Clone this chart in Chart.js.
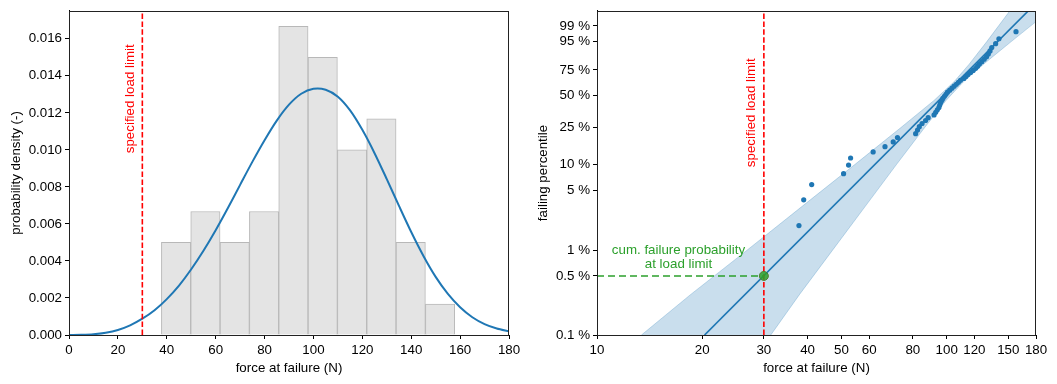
<!DOCTYPE html>
<html>
<head>
<meta charset="utf-8">
<script src="https://cdn.jsdelivr.net/npm/chart.js@4.4.1/dist/chart.umd.min.js"></script>
<style>
  html, body { margin: 0; padding: 0; background: #fff; }
  #wrap { position: relative; width: 1057px; height: 384px; }
  .panel { position: absolute; top: 0; }
  #left { left: 0; }
  #right { left: 528px; }
</style>
</head>
<body>
<div id="wrap">
  <div class="panel" id="left"><canvas id="histChart" width="528" height="384"></canvas></div>
  <div class="panel" id="right"><canvas id="probChart" width="529" height="384"></canvas></div>
</div>
<script>
// histogram of force at failure (N), 10 bins of 12 N
const binCenters = [43.8, 55.8, 67.8, 79.8, 91.8, 103.8, 115.8, 127.8, 139.8, 151.8];
const binDensity = [0.005, 0.00667, 0.005, 0.00667, 0.01667, 0.015, 0.01, 0.01167, 0.005, 0.00167];

// fitted density curve
const pdfX = [0, 5, 10, 15, 20, 25, 30, 35, 40, 45, 50, 55, 60, 65, 70, 75, 80, 85, 90,
              95, 100, 105, 110, 115, 120, 125, 130, 135, 140, 145, 150, 155, 160, 165, 170, 175, 180];
const pdfY = [0, 0.00001, 0.00004, 0.00012, 0.00027, 0.00052, 0.00088, 0.00134, 0.00194, 0.00267,
              0.00355, 0.00455, 0.00566, 0.00686, 0.00811, 0.00935, 0.01052, 0.01158, 0.01244,
              0.01303, 0.0133, 0.01325, 0.01287, 0.01213, 0.01108, 0.00982, 0.00842, 0.00697,
              0.00556, 0.00427, 0.00314, 0.00222, 0.0015, 0.00096, 0.00059, 0.00035, 0.0002];

const loadLimit = 30;      // N
const limitPct = 0.5;      // cum. failure probability at load limit (%)

// sorted failure forces (N) and their failing percentile (%)
const forces = [37.8, 39.0, 41.1, 50.7, 52.4, 53.1, 61.6, 66.6, 70.3, 72.3,
                81.5, 82.5, 83.5, 85.0,
                87.0, 88.5, 92.0, 93.0, 94.0, 95.0, 95.5, 96.0, 96.8, 97.5,
                98.5, 99.5, 100.5, 102.0, 103.5, 105.0, 106.5, 108.0, 109.5,
                112.0, 113.5, 115.0, 117.0, 119.0, 121.0,
                122.5, 124.0, 126.0, 128.0, 130.0, 131.5, 133.0,
                134.5, 138.0, 141.0,
                157.8];
const failPct = [1.96, 3.92, 5.88, 7.84, 9.80, 11.76, 13.73, 15.69, 17.65, 19.61,
                 21.57, 23.53, 25.49, 27.45, 29.41, 31.37, 33.33, 35.29, 37.25, 39.22,
                 41.18, 43.14, 45.10, 47.06, 49.02, 50.98, 52.94, 54.90, 56.86, 58.82,
                 60.78, 62.75, 64.71, 66.67, 68.63, 70.59, 72.55, 74.51, 76.47, 78.43,
                 80.39, 82.35, 84.31, 86.27, 88.24, 90.20, 92.16, 94.12, 96.08, 98.04];

// fitted line and its confidence band
const fitX = [20.3, 171];
const fitPct = [0.1, 99.9];
const bandPct = [0.1, 0.3, 1, 3, 10, 25, 45, 63.2, 80, 95, 99.9];
const bandLow = [13.4, 18.5, 26.8, 37.5, 54.7, 74.0, 91.8, 104.9, 115.8, 130.2, 151.4];
const bandHigh = [31.4, 37.9, 47.1, 57.5, 71.9, 86.5, 99.4, 111.6, 127.2, 152.9, 196.3];

// axis ticks
const forceTicks = [10, 20, 30, 40, 50, 60, 80, 100, 120, 150, 180];
const pctTicks = [0.1, 0.5, 1, 5, 10, 25, 50, 75, 95, 99];
const pctLabels = ['0.1 %', '0.5 %', '1 %', '5 %', '10 %', '25 %', '50 %', '75 %', '95 %', '99 %'];

// weibull probability paper
const wb = p => Math.log(-Math.log(1 - p / 100));

Chart.defaults.font.family = '"Liberation Sans", Arial, sans-serif';
Chart.defaults.font.size = 13.33;
Chart.defaults.color = '#000';

const blue = '#1f77b4';
const green = '#2ca02c';

function axisStyle() {
    return {
        grid: { display: true, offset: false, drawOnChartArea: false, drawTicks: true, tickLength: 4, tickColor: '#000' },
        border: { display: true, color: '#000', width: 1 }
    };
}

// box around the plot area plus text annotations
const framePlugin = {
    id: 'frame',
    afterDatasetsDraw(chart) {
        const { ctx, chartArea: a } = chart;
        ctx.save();
        ctx.strokeStyle = '#222';
        ctx.lineWidth = 1;
        ctx.strokeRect(Math.round(a.left) + 0.5, Math.round(a.top) + 0.5,
                       Math.round(a.right - a.left) - 1, Math.round(a.bottom - a.top));
        const notes = chart.options.plugins.frame.notes || [];
        notes.forEach(n => {
            const x = chart.scales.x.getPixelForValue(n.x) + (n.dx || 0);
            const y = chart.scales.y.getPixelForValue(n.y) + (n.dy || 0);
            ctx.save();
            ctx.translate(x, y);
            ctx.rotate(n.rot || 0);
            ctx.fillStyle = n.color;
            ctx.font = '13.33px "Liberation Sans", Arial, sans-serif';
            ctx.textAlign = 'center';
            ctx.textBaseline = 'middle';
            ctx.fillText(n.text, 0, 0);
            ctx.restore();
        });
        ctx.restore();
    }
};

// left: histogram + density
const yTop = 0.0175;
new Chart(document.getElementById('histChart'), {
    type: 'bar',
    data: {
        datasets: [
            {
                type: 'line',
                data: [{ x: loadLimit, y: 0 }, { x: loadLimit, y: yTop }],
                borderColor: 'red', borderWidth: 1.6, borderDash: [5.5, 2.4],
                pointRadius: 0, order: 0
            },
            {
                type: 'line',
                data: pdfX.map((x, i) => ({ x: x, y: pdfY[i] })),
                borderColor: blue, borderWidth: 2, pointRadius: 0, tension: 0.3, order: 1
            },
            {
                data: binCenters.map((x, i) => ({ x: x, y: binDensity[i] })),
                backgroundColor: '#e4e4e4', borderColor: '#b8b8b8', borderWidth: 1,
                barPercentage: 1, categoryPercentage: 1, order: 2
            }
        ]
    },
    options: {
        responsive: false,
        animation: false,
        layout: { padding: { left: 0, right: 19, top: 3, bottom: 0 } },
        plugins: {
            legend: { display: false },
            tooltip: { enabled: false },
            frame: {
                notes: [{ x: loadLimit, y: 0.01276, dx: -12, rot: -Math.PI / 2, color: 'red', text: 'specified load limit' }]
            }
        },
        scales: {
            x: {
                type: 'linear', min: 0, max: 180, offset: false,
                ticks: { stepSize: 20, padding: 3, maxRotation: 0, autoSkip: false },
                title: { display: true, text: 'force at failure (N)', padding: { top: 2, bottom: 8 } },
                afterFit: s => { s.height = 49; },
                ...axisStyle()
            },
            y: {
                min: 0, max: yTop,
                ticks: { stepSize: 0.002, includeBounds: false, padding: 3, callback: v => v.toFixed(3) },
                title: { display: true, text: 'probability density (-)', padding: { top: 8, bottom: 0 } },
                afterFit: s => { s.width = 69; },
                ...axisStyle()
            }
        }
    },
    plugins: [framePlugin]
});

// right: weibull probability plot
const bandPts = bandPct.map((p, i) => ({ x: bandLow[i], y: wb(p) }))
    .concat(bandPct.map((p, i) => ({ x: bandHigh[i], y: wb(p) })).reverse());

new Chart(document.getElementById('probChart'), {
    type: 'scatter',
    data: {
        datasets: [
            {
                data: [{ x: loadLimit, y: wb(limitPct) }],
                pointRadius: 4.5, backgroundColor: 'rgba(44,160,44,0.85)', borderColor: '#4f7d2c', borderWidth: 1,
                order: 0
            },
            {
                data: [{ x: 10, y: wb(limitPct) }, { x: loadLimit, y: wb(limitPct) }],
                showLine: true, borderColor: green, borderWidth: 1.6, borderDash: [7, 4], pointRadius: 0,
                order: 1
            },
            {
                data: [{ x: loadLimit, y: wb(0.1) }, { x: loadLimit, y: wb(99.9) }],
                showLine: true, borderColor: 'red', borderWidth: 1.6, borderDash: [5.5, 2.4], pointRadius: 0,
                order: 2
            },
            {
                data: forces.map((x, i) => ({ x: x, y: wb(failPct[i]) })),
                pointRadius: 2.6, backgroundColor: blue, borderWidth: 0, order: 3
            },
            {
                data: fitX.map((x, i) => ({ x: x, y: wb(fitPct[i]) })),
                showLine: true, borderColor: blue, borderWidth: 1.7, pointRadius: 0, clip: 0, order: 4
            },
            {
                data: bandPts,
                showLine: true, fill: 'shape', backgroundColor: 'rgba(31,119,180,0.24)',
                borderColor: 'rgba(31,119,180,0.25)', borderWidth: 1, pointRadius: 0, clip: 0, order: 5
            }
        ]
    },
    options: {
        responsive: false,
        animation: false,
        layout: { padding: { left: 0, right: 21, top: 3, bottom: 0 } },
        plugins: {
            legend: { display: false },
            tooltip: { enabled: false },
            frame: {
                notes: [
                    { x: loadLimit, y: wb(35), dx: -13, rot: -Math.PI / 2, color: 'red', text: 'specified load limit' },
                    { x: 17.1, y: wb(limitPct), dy: -26, color: green, text: 'cum. failure probability' },
                    { x: 17.1, y: wb(limitPct), dy: -12, color: green, text: 'at load limit' }
                ]
            }
        },
        scales: {
            x: {
                type: 'logarithmic', min: 10, max: 180,
                afterBuildTicks: s => { s.ticks = forceTicks.map(v => ({ value: v })); },
                ticks: { padding: 3, maxRotation: 0, autoSkip: false, callback: v => String(v) },
                title: { display: true, text: 'force at failure (N)', padding: { top: 2, bottom: 8 } },
                afterFit: s => { s.height = 49; },
                ...axisStyle()
            },
            y: {
                type: 'linear', min: wb(0.1), max: wb(99.9),
                afterBuildTicks: s => { s.ticks = pctTicks.map(p => ({ value: wb(p) })); },
                ticks: { padding: 3, autoSkip: false, callback: (v, i) => pctLabels[i] },
                title: { display: true, text: 'failing percentile', padding: { top: 7, bottom: 0 } },
                afterFit: s => { s.width = 69; },
                ...axisStyle()
            }
        }
    },
    plugins: [framePlugin]
});
</script>
</body>
</html>
